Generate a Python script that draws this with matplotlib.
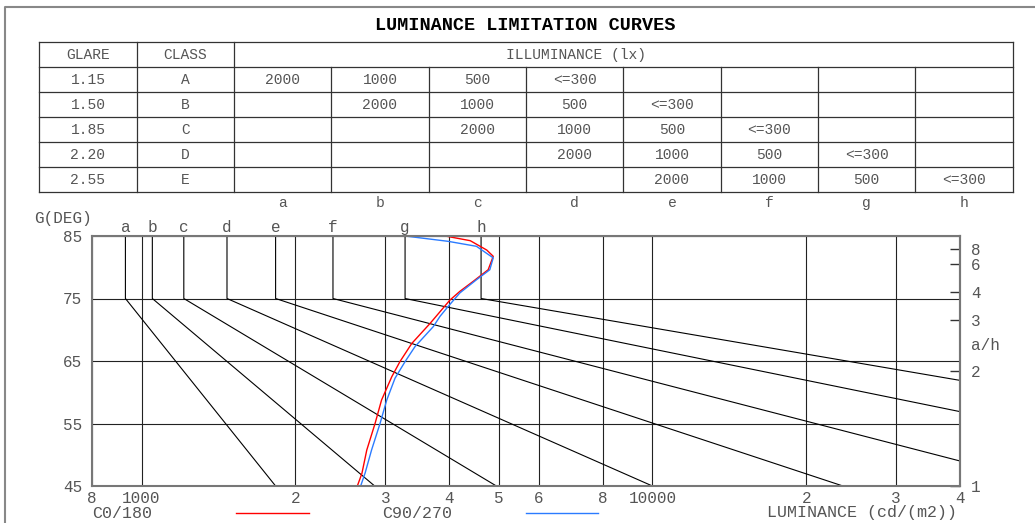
#!/usr/bin/env python3

import numpy as np
import matplotlib.pyplot as plt
from matplotlib.ticker import NullLocator

plt.rcParams['font.family'] = ['Liberation Mono', 'DejaVu Sans Mono']

W, H = 1035, 523
TXT = '#555555'

title = 'LUMINANCE LIMITATION CURVES'
glare = ['1.15', '1.50', '1.85', '2.20', '2.55']
classes = ['A', 'B', 'C', 'D', 'E']
illum_a = ['2000', '1000', '500', '<=300', '', '', '', '']
illum_b = ['', '2000', '1000', '500', '<=300', '', '', '']
illum_c = ['', '', '2000', '1000', '500', '<=300', '', '']
illum_d = ['', '', '', '2000', '1000', '500', '<=300', '']
illum_e = ['', '', '', '', '2000', '1000', '500', '<=300']
curve_names = ['a', 'b', 'c', 'd', 'e', 'f', 'g', 'h']

# limit curves: vertical at lum_75 from 85 to 75 deg, then straight (log) to the end point
lum_75 = [930, 1050, 1210, 1470, 1830, 2370, 3280, 4620]
lum_end = [1830, 2860, 4950, 10000, 23600, 40000, 40000, 40000]
gamma_end = [45, 45, 45, 45, 45, 49.0, 56.9, 61.9]

# luminance curves of the luminaire
c0_gamma = [85.0, 84.25, 82.75, 81.75, 79.6, 77.75, 76.15, 74.75, 71.0, 67.8,
            64.9, 62.5, 58.75, 55.0, 50.75, 47.0, 45.0]
c0_lum = [3930, 4400, 4740, 4880, 4770, 4460, 4200, 4015, 3670, 3380,
          3205, 3090, 2950, 2865, 2760, 2700, 2645]
c90_gamma = [85.0, 84.15, 83.35, 81.5, 79.6, 78.0, 75.9, 73.75, 72.15, 70.5,
             67.3, 64.9, 62.25, 58.75, 55.0, 50.75, 47.1, 45.0]
c90_lum = [3280, 3980, 4525, 4880, 4805, 4525, 4200, 3985, 3840, 3725,
           3430, 3280, 3135, 3020, 2930, 2820, 2740, 2685]

x_ticks = [800, 1000, 2000, 3000, 4000, 5000, 6000, 8000, 10000, 20000, 30000, 40000]
x_labels = ['8', '1000', '2', '3', '4', '5', '6', '8', '10000', '2', '3', '4']
y_ticks = [45, 55, 65, 75, 85]
ah_ticks = [1, 2, 3, 4, 6, 8]

fig = plt.figure(figsize=(W / 100, H / 100), dpi=100)
bg = fig.add_axes([0, 0, 1, 1])
bg.set_xlim(0, W)
bg.set_ylim(H, 0)
bg.axis('off')

# page frame
bg.plot([5, 5, W], [H, 7, 7], color='#888888', lw=1.5)
bg.text(525, 25, title, ha='center', va='center', fontsize=13.3,
        fontweight='bold', color='black')

# table
top, row_h = 42, 25.05
col_x = [39.3 + 97.33 * k for k in range(11)]
rows_y = [top + row_h * i for i in range(7)]
for y in rows_y:
    bg.plot([col_x[0], col_x[-1]], [y, y], color='#333333', lw=0.9)
for k, x in enumerate(col_x):
    y0 = rows_y[0] if k in (0, 1, 2, 10) else rows_y[1]
    bg.plot([x, x], [y0, rows_y[-1]], color='#333333', lw=0.9)

cy = [(rows_y[i] + rows_y[i + 1]) / 2 for i in range(6)]
cx = [(col_x[k] + col_x[k + 1]) / 2 for k in range(10)]
tk = dict(ha='center', va='center', fontsize=10.5, color=TXT)
bg.text(cx[0], cy[0], 'GLARE', **tk)
bg.text(cx[1], cy[0], 'CLASS', **tk)
bg.text(576, cy[0], 'ILLUMINANCE (lx)', **tk)
for i, row in enumerate([illum_a, illum_b, illum_c, illum_d, illum_e]):
    bg.text(cx[0], cy[i + 1], glare[i], **tk)
    bg.text(cx[1], cy[i + 1], classes[i], **tk)
    for k, v in enumerate(row):
        bg.text(cx[k + 2], cy[i + 1], v, **tk)
for k, n in enumerate(curve_names):
    bg.text(cx[k + 2], 203, n, **tk)

# chart
ax = fig.add_axes([92 / W, (H - 486) / H, 868 / W, 250 / H])
ax.set_xscale('log')
ax.set_xlim(800, 40000)
ax.set_ylim(45, 85)
ax.set_xticks(x_ticks)
ax.set_xticklabels(x_labels)
ax.xaxis.set_minor_locator(NullLocator())
ax.set_yticks(y_ticks)
ax.tick_params(axis='x', length=0, pad=3.5, labelsize=11.5, labelcolor=TXT)
ax.tick_params(axis='y', length=0, pad=7, labelsize=11.5, labelcolor=TXT)
ax.grid(True, color='#222222', lw=0.8)
for s in ax.spines.values():
    s.set_color('#777777')
    s.set_linewidth(1.5)

for n, l75, le, ge in zip(curve_names, lum_75, lum_end, gamma_end):
    ax.plot([l75, l75, le], [85, 75, ge], color='black', lw=0.8)
    ax.annotate(n, (l75, 85), xytext=(0, 3), textcoords='offset points',
                ha='center', va='baseline', fontsize=11.5, color=TXT,
                annotation_clip=False)

ax.plot(c0_lum, c0_gamma, color='#ff0000', lw=1.0)
ax.plot(c90_lum, c90_gamma, color='#2b7bff', lw=1.0)

sec = ax.secondary_yaxis('right', functions=(lambda g: np.tan(np.radians(g)),
                                              lambda r: np.degrees(np.arctan(r))))
sec.set_yticks(ah_ticks)
sec.set_yticklabels([str(v) for v in ah_ticks])
sec.yaxis.set_minor_locator(NullLocator())
sec.tick_params(direction='in', length=7, width=1, color='#333333', pad=8,
                labelsize=11.5, labelcolor=TXT)
sec.spines['right'].set_color('#777777')
sec.spines['right'].set_linewidth(1.5)

bg.text(63, 219, 'G(DEG)', ha='center', va='center', fontsize=11.5, color=TXT)
bg.text(971, 346, 'a/h', ha='left', va='center', fontsize=11.5, color=TXT)

# legend row
lk = dict(va='center', fontsize=12, color=TXT)
bg.text(92, 513, 'C0/180', ha='left', **lk)
bg.plot([236, 309], [513, 513], color='#ff0000', lw=1.0)
bg.text(417, 513, 'C90/270', ha='center', **lk)
bg.plot([526, 598], [513, 513], color='#2b7bff', lw=1.0)
bg.text(957, 513, 'LUMINANCE (cd/(m2))', ha='right', **lk)

plt.savefig('out.png', dpi=100)
plt.close()
